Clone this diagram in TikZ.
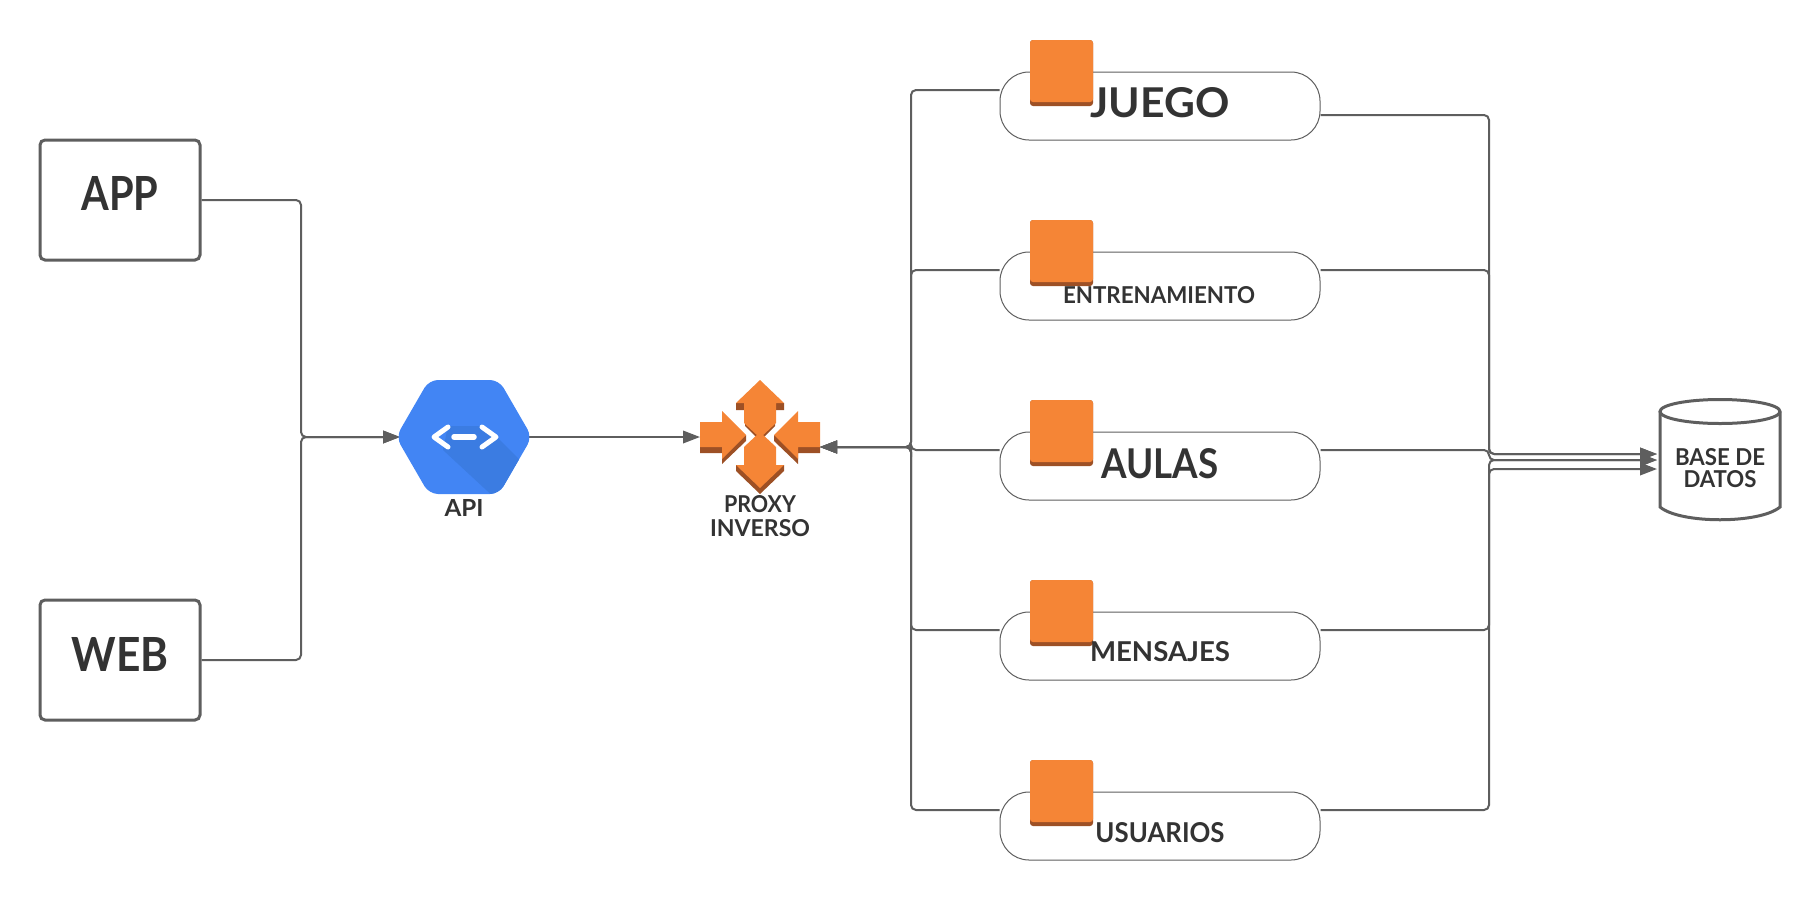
\documentclass[tikz,border=0pt]{standalone}
\usepackage{fontspec}
\usepackage{graphicx}
\setmainfont{Lato}
\usetikzlibrary{arrows.meta,backgrounds}
\definecolor{linegray}{HTML}{5E5E5E}
\definecolor{txt}{HTML}{333333}
\definecolor{aws}{HTML}{F58536}
\definecolor{awsdark}{HTML}{9D5025}
\definecolor{gblue}{HTML}{4285F4}
\definecolor{gdark}{HTML}{3B7CE2}
\newcommand\lbl[3]{\resizebox{#1pt}{#2pt}{\bfseries #3}}
\tikzset{
  conn/.style={draw=linegray,line width=2pt,rounded corners=5pt},
  flow/.style={conn,-{Triangle[length=17pt,width=12.5pt]}},
  clientbox/.style={draw=linegray,line width=3pt,rounded corners=5pt,fill=white,minimum width=160pt,minimum height=120pt,inner sep=0},
  svcbox/.style={draw=linegray,line width=1pt,rounded corners=29pt,fill=white,minimum width=320pt,minimum height=68pt,inner sep=0},
  ghost/.style={inner sep=0,outer sep=0},
  txtn/.style={inner sep=0,outer sep=0,text=txt},
  cyl/.style={draw=linegray,line width=3pt},
}
\newcommand\instance[1]{%
  \fill[awsdark,rounded corners=3pt] (1030,#1) rectangle ++(63,66);
  \fill[aws,rounded corners=3pt] (1030,#1) rectangle ++(63,62);
}
\begin{document}
\begin{tikzpicture}[x=1pt,y=-1pt]
\useasboundingbox (0,0) rectangle (1820,900);
% nodes
\node[clientbox] (app) at (120,200) {};
\node[clientbox] (web) at (120,660) {};
\node[ghost,minimum width=128pt,minimum height=114pt] (api) at (464,437) {};
\node[ghost,minimum width=120pt,minimum height=114pt] (proxy) at (760,437) {};
\node[ghost,minimum width=120pt,minimum height=121pt] (db) at (1720,460) {};
\node[svcbox] (s1) at (1160,106) {};
\node[svcbox] (s2) at (1160,286) {};
\node[svcbox] (s3) at (1160,466) {};
\node[svcbox] (s4) at (1160,646) {};
\node[svcbox] (s5) at (1160,826) {};
% connectors
\begin{scope}[on background layer]
\draw[flow] (app.east) -| (301,437) -- (api.west);
\draw[flow] (web.east) -| (301,437) -- (api.west);
\draw[flow] (api.east) -- (proxy.west);
\foreach \s in {s1,s2,s3,s4,s5}{
  \draw[flow] ([yshift=16pt]\s.west) -| (911,447) -- ([yshift=-10pt]proxy.east);
}
\draw[flow] ([yshift=-9pt]s1.east) -| (1489,454) -- ([xshift=-3pt,yshift=6pt]db.west);
\draw[flow] ([yshift=16pt]s2.east) -| (1489,454) -- ([xshift=-3pt,yshift=6pt]db.west);
\draw[flow] ([yshift=16pt]s3.east) -| (1489,460) -- ([xshift=-3pt]db.west);
\draw[flow] ([yshift=16pt]s4.east) -| (1489,460) -- ([xshift=-3pt]db.west);
\draw[flow] ([yshift=16pt]s5.east) -| (1489,469) -- ([xshift=-3pt,yshift=-9pt]db.west);
\end{scope}
% API hexagon
\begin{scope}
\clip[rounded corners=9pt] (396,437) -- (429,380) -- (499,380) -- (532,437) -- (499,494) -- (429,494) -- cycle;
\fill[gblue] (390,370) rectangle (540,500);
\fill[gdark] (443,450) -- (448,426) -- (482,426) -- (497,437) -- (540,480) -- (540,500) -- (497,500) -- cycle;
\end{scope}
\draw[white,line width=5pt,line cap=round,line join=round] (448,427) -- (434,437) -- (448,447);
\draw[white,line width=5pt,line cap=round,line join=round] (482,427) -- (496,437) -- (482,447);
\draw[white,line width=5.5pt,line cap=round] (454,437) -- (474,437);
% proxy arrows
\fill[awsdark] (736,403) -- (736,410) -- (745,410) -- (745,426) -- (757,438) -- (763,438) -- (775,426) -- (775,410) -- (784,410) -- (784,403) -- cycle;
\fill[aws] (760,380) -- (784,403) -- (776,403) -- (776,423) -- (760,438) -- (744,423) -- (744,403) -- (736,403) -- cycle;
\fill[awsdark] (736,465) -- (736,471) -- (760,494) -- (784,471) -- (784,465) -- cycle;
\fill[aws] (760,432) -- (776,447) -- (776,465) -- (784,465) -- (760,488) -- (736,465) -- (744,465) -- (744,447) -- cycle;
\fill[awsdark] (700,447) -- (700,453) -- (722,453) -- (722,464) -- (746,441) -- (746,435) -- (722,447) -- cycle;
\fill[aws] (700,422) -- (722,422) -- (722,411) -- (746,435) -- (722,459) -- (722,447) -- (700,447) -- cycle;
\fill[awsdark] (820,447) -- (820,453) -- (798,453) -- (798,464) -- (774,441) -- (774,435) -- (798,447) -- cycle;
\fill[aws] (820,422) -- (798,422) -- (798,411) -- (774,435) -- (798,459) -- (798,447) -- (820,447) -- cycle;
% orange squares
\instance{40}
\instance{220}
\instance{400}
\instance{580}
\instance{760}
% database
\draw[cyl] ([yshift=-12pt]db.north) ellipse [x radius=60pt,y radius=12pt];
\draw[cyl] (1660,412) -- (1660,507) .. controls (1680,524) and (1760,524) .. (1780,507) -- (1780,412);
% labels
\node[txtn] (tapp) at (120,193) {\lbl{77}{34}{APP}};
\node[txtn] (tweb) at (120,654) {\lbl{97}{34}{WEB}};
\node[txtn] (tapi) at (464,508) {\lbl{39}{17}{API}};
\node[txtn] (tp1) at (760,504) {\lbl{72}{17}{PROXY}};
\node[txtn] (tp2) at (760,528) {\lbl{100}{17}{INVERSO}};
\node[txtn] (t1) at (1160,103) {\lbl{139}{30}{JUEGO}};
\node[txtn] (t2) at (1159,295) {\lbl{192}{17}{ENTRENAMIENTO}};
\node[txtn] (t3) at (1160,464) {\lbl{117}{30}{AULAS}};
\node[txtn] (t4) at (1160,652) {\lbl{140}{20}{MENSAJES}};
\node[txtn] (t5) at (1160,833) {\lbl{129}{20}{USUARIOS}};
\node[txtn] (td1) at (1720,457) {\lbl{90}{17}{BASE DE}};
\node[txtn] (td2) at (1720,479) {\lbl{73}{17}{DATOS}};
\end{tikzpicture}
\end{document}
